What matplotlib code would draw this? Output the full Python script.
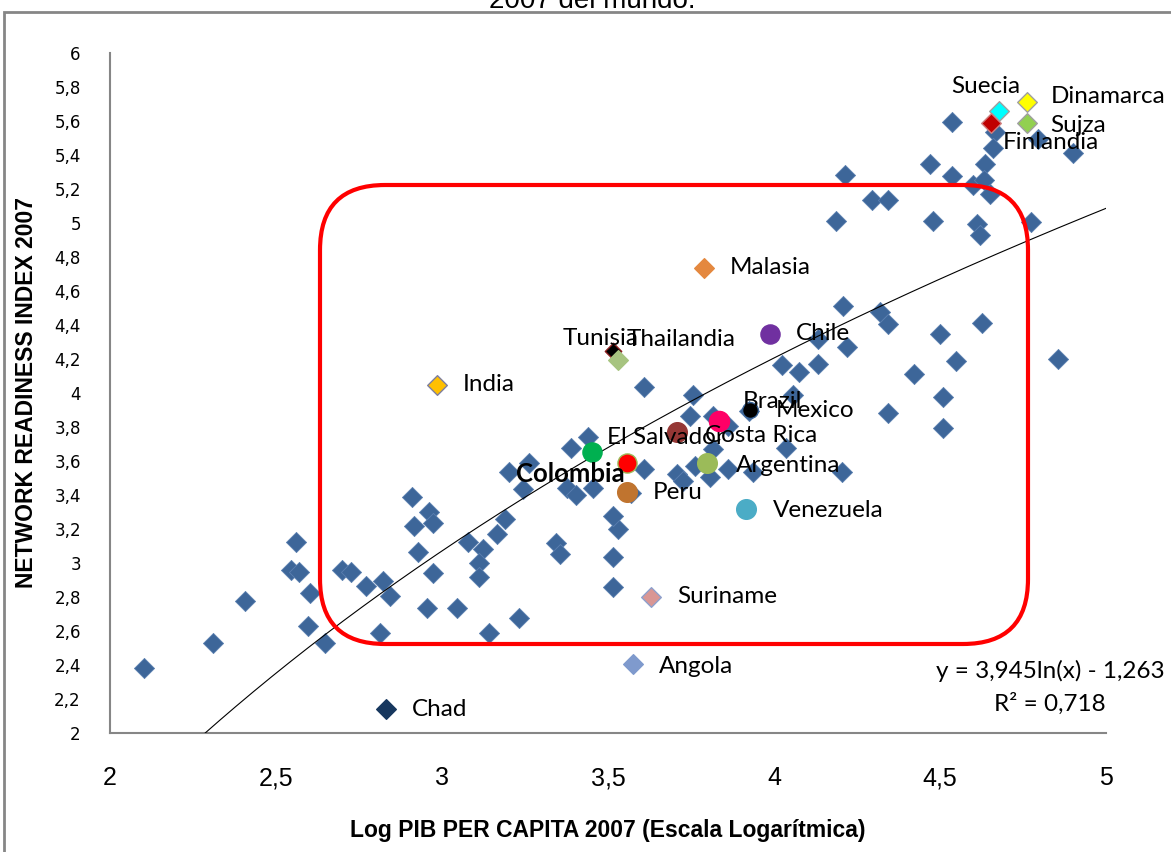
import matplotlib
matplotlib.use("Agg")
import numpy as np
import matplotlib.pyplot as plt
from matplotlib import font_manager
from matplotlib.patches import FancyBboxPatch, Rectangle

# ---------------------------------------------------------------- data
# Log GDP per capita 2007 and Network Readiness Index 2007 (other countries)
other_logpib = [
    2.103, 2.311, 2.408, 2.559, 2.545, 2.570, 2.602, 2.597, 2.649, 2.698,
    2.726, 2.771, 2.821, 2.843, 2.813, 2.954, 3.044, 3.142, 2.910, 2.962,
    2.917, 2.974, 2.929, 2.972, 3.079, 3.122, 3.167, 3.112, 3.110, 3.190,
    3.233, 3.343, 3.355, 3.514, 3.516, 3.530, 3.516, 3.607, 3.757, 3.747,
    3.817, 3.862, 3.817, 3.441, 3.390, 3.608, 3.762, 3.862, 3.938, 3.807,
    3.707, 3.727, 3.262, 3.202, 3.244, 3.376, 3.403, 3.456, 3.570, 3.925,
    4.207, 4.319, 4.344, 4.219, 4.134, 4.500, 4.627, 4.548, 4.422, 4.025,
    4.075, 4.134, 4.508, 4.058, 4.344, 4.510, 4.035, 4.204, 4.854, 4.535,
    4.666, 4.796, 4.659, 4.902, 4.214, 4.470, 4.535, 4.636, 4.600, 4.633,
    4.651, 4.294, 4.344, 4.187, 4.478, 4.610, 4.620, 4.774,
]
other_nri = [
    2.381, 2.532, 2.774, 3.125, 2.960, 2.945, 2.821, 2.627, 2.532, 2.958,
    2.949, 2.866, 2.896, 2.807, 2.591, 2.738, 2.733, 2.587, 3.386, 3.302,
    3.219, 3.233, 3.062, 2.941, 3.125, 3.082, 3.171, 3.000, 2.915, 3.259,
    2.679, 3.116, 3.053, 3.037, 2.856, 3.200, 3.278, 4.038, 3.991, 3.862,
    3.867, 3.805, 3.668, 3.744, 3.678, 3.552, 3.573, 3.552, 3.533, 3.508,
    3.524, 3.485, 3.588, 3.537, 3.435, 3.440, 3.399, 3.440, 3.410, 3.895,
    4.512, 4.476, 4.404, 4.270, 4.319, 4.345, 4.411, 4.186, 4.109, 4.167,
    4.123, 4.168, 3.975, 3.991, 3.881, 3.793, 3.677, 3.536, 4.201, 5.595,
    5.536, 5.497, 5.444, 5.409, 5.281, 5.346, 5.275, 5.346, 5.222, 5.252,
    5.173, 5.138, 5.138, 5.012, 5.010, 4.993, 4.928, 5.006,
]

# Highlighted countries
named_countries = ["Suecia", "Dinamarca", "Finlandia", "Sujza", "Malasia",
                   "Tunisia", "Thailandia", "India", "Chile", "Brazil",
                   "Mexico", "Costa Rica", "El Salvador", "Colombia",
                   "Argentina", "Peru", "Venezuela", "Suriname", "Angola",
                   "Chad"]
named_logpib = [4.678, 4.761, 4.653, 4.761, 3.789, 3.515, 3.531, 2.984,
                3.988, 3.834, 3.929, 3.707, 3.451, 3.556, 3.799, 3.557,
                3.916, 3.631, 3.574, 2.831]
named_nri = [5.660, 5.713, 5.586, 5.586, 4.738, 4.245, 4.196, 4.048,
             4.349, 3.834, 3.901, 3.770, 3.652, 3.589, 3.587, 3.416,
             3.318, 2.801, 2.405, 2.140]

# Logarithmic trend line: y = a ln(x) + b
trend_a = 3.945
trend_b = -1.263
trend_r2 = 0.718

x_ticks = [2, 2.5, 3, 3.5, 4, 4.5, 5]
y_ticks = [2, 2.2, 2.4, 2.6, 2.8, 3, 3.2, 3.4, 3.6, 3.8, 4, 4.2, 4.4, 4.6,
           4.8, 5, 5.2, 5.4, 5.6, 5.8, 6]

# ---------------------------------------------------------------- styles
names = {f.name for f in font_manager.fontManager.ttflist}
NARROW = "Liberation Sans Narrow" if "Liberation Sans Narrow" in names else "Liberation Sans"
LABEL_FONT = "Lato" if "Lato" in names else "DejaVu Sans"
LABEL_SIZE = 17.5

BLUE = "#3D6699"
marker_style = {
    "Suecia":      ("D", "#00FFFF", "#A0A0A0", 100),
    "Dinamarca":   ("D", "#FFFF00", "#A0A0A0", 100),
    "Finlandia":   ("D", "#C00000", "#D08080", 100),
    "Sujza":       ("D", "#92D050", "#A0A0A0", 100),
    "Malasia":     ("D", "#E4883F", "#E4883F", 100),
    "Tunisia":     ("D", "#000000", "#8B2020", 70),
    "Thailandia":  ("D", "#A7C480", "#A7C480", 100),
    "India":       ("D", "#FFC000", "#7F7F9F", 100),
    "Chile":       ("o", "#7030A0", "#7030A0", 190),
    "Brazil":      ("o", "#FF0066", "#FF0066", 210),
    "Mexico":      ("o", "#000000", "#3D6699", 130),
    "Costa Rica":  ("o", "#953735", "#953735", 200),
    "El Salvador": ("o", "#00B050", "#00B050", 190),
    "Colombia":    ("o", "#FF0000", "#9BBB59", 190),
    "Argentina":   ("o", "#9BBB59", "#9BBB59", 200),
    "Peru":        ("o", "#C0742F", "#C0742F", 200),
    "Venezuela":   ("o", "#4BACC6", "#4BACC6", 200),
    "Suriname":    ("D", "#D99694", "#8EA0CC", 100),
    "Angola":      ("D", "#7F9ACD", "#7F9ACD", 100),
    "Chad":        ("D", "#17375E", "#17375E", 100),
}

# label offsets from the marker, in pixels (dx right, dy up)
DEFAULT_OFFSET = (26, 0)
label_offset = {
    "Suecia": (-48, 24), "Dinamarca": (24, 5), "Finlandia": (12, -19),
    "Sujza": (24, -2), "Tunisia": (-50, 13), "Thailandia": (8, 20),
    "Brazil": (24, 20), "Mexico": (25, -1), "Costa Rica": (28, -3),
    "El Salvador": (15, 15), "Argentina": (29, -2), "Venezuela": (27, -2),
    "Angola": (26, -2),
}

# ---------------------------------------------------------------- figure
W, H = 1171, 852
fig = plt.figure(figsize=(W / 100, H / 100), dpi=100)
ax = fig.add_axes([110 / W, (H - 733) / H, 996 / W, 680 / H])

# chart frame and clipped title above it
fig.patches.append(Rectangle((4, -20), 1300, H - 12 + 20, transform=None,
                             fill=False, edgecolor="#868686", linewidth=2.0))
fig.text(0.506, 1 - 8 / H, "2007 del mundo.", ha="center", va="baseline",
         fontsize=20, family="Liberation Sans", color="black")

# scatter of all countries
ax.scatter(other_logpib, other_nri, marker="D", s=105, color=BLUE,
           edgecolors="#5A7FB0", linewidths=0.6, zorder=3)

# trend line
x_start = np.exp((2 - trend_b) / trend_a)
xt = np.linspace(x_start, 5, 300)
ax.plot(xt, trend_a * np.log(xt) + trend_b, color="black", lw=0.8, zorder=4)

# highlighted countries with their labels
px2pt = 72 / 100
for name, xv, yv in zip(named_countries, named_logpib, named_nri):
    mk, fc, ec, s = marker_style[name]
    ax.scatter([xv], [yv], marker=mk, s=s, color=fc, edgecolors=ec,
               linewidths=1.0, zorder=6)
    dx, dy = label_offset.get(name, DEFAULT_OFFSET)
    if name == "Colombia":
        ax.annotate(name, (xv, yv), xytext=(-2 * px2pt, -11 * px2pt),
                    textcoords="offset points", ha="right", va="center",
                    fontsize=18.5, fontweight="bold", family=LABEL_FONT,
                    zorder=8)
    else:
        ax.annotate(name, (xv, yv), xytext=(dx * px2pt, dy * px2pt),
                    textcoords="offset points", ha="left", va="center",
                    fontsize=LABEL_SIZE, family=LABEL_FONT, zorder=8)

# trend equation
eq_text = "y = {}ln(x) - {}".format(f"{trend_a:.3f}".replace(".", ","),
                                    f"{-trend_b:.3f}".replace(".", ","))
ax.text(1050 / W, (H - 671) / H, eq_text, transform=fig.transFigure,
        ha="center", va="center", fontsize=LABEL_SIZE, family=LABEL_FONT)
ax.text(1050 / W, (H - 704) / H, "R² = " + f"{trend_r2:.3f}".replace(".", ","),
        transform=fig.transFigure, ha="center", va="center",
        fontsize=LABEL_SIZE, family=LABEL_FONT)

# red rounded box around the middle group
fig.patches.append(FancyBboxPatch((320, H - 644), 708, 459,
                                  boxstyle="round,pad=0,rounding_size=65",
                                  transform=None, fill=False,
                                  edgecolor="#FF0000", linewidth=3.0,
                                  zorder=7))

# axes
ax.set_xlim(2, 5)
ax.set_ylim(2, 6)
ax.set_xticks(x_ticks)
ax.set_yticks(y_ticks)
ax.set_xticklabels([f"{t:g}".replace(".", ",") for t in x_ticks],
                   family=NARROW, fontsize=18)
ax.set_yticklabels([f"{t:g}".replace(".", ",") for t in y_ticks],
                   family="DejaVu Sans", fontsize=12)
ax.tick_params(axis="x", length=0, pad=24)
ax.tick_params(axis="y", length=0, pad=21)
for side in ("top", "right"):
    ax.spines[side].set_visible(False)
for side in ("left", "bottom"):
    ax.spines[side].set_color("#868686")
    ax.spines[side].set_linewidth(1.5)

ax.set_xlabel("Log PIB PER CAPITA 2007 (Escala Logarítmica)", family=NARROW,
              fontweight="bold", fontsize=16.5, labelpad=21)
ax.set_ylabel("NETWORK READINESS INDEX 2007", family=NARROW,
              fontweight="bold", fontsize=16.5, labelpad=12)

fig.savefig("out.png", dpi=100)
